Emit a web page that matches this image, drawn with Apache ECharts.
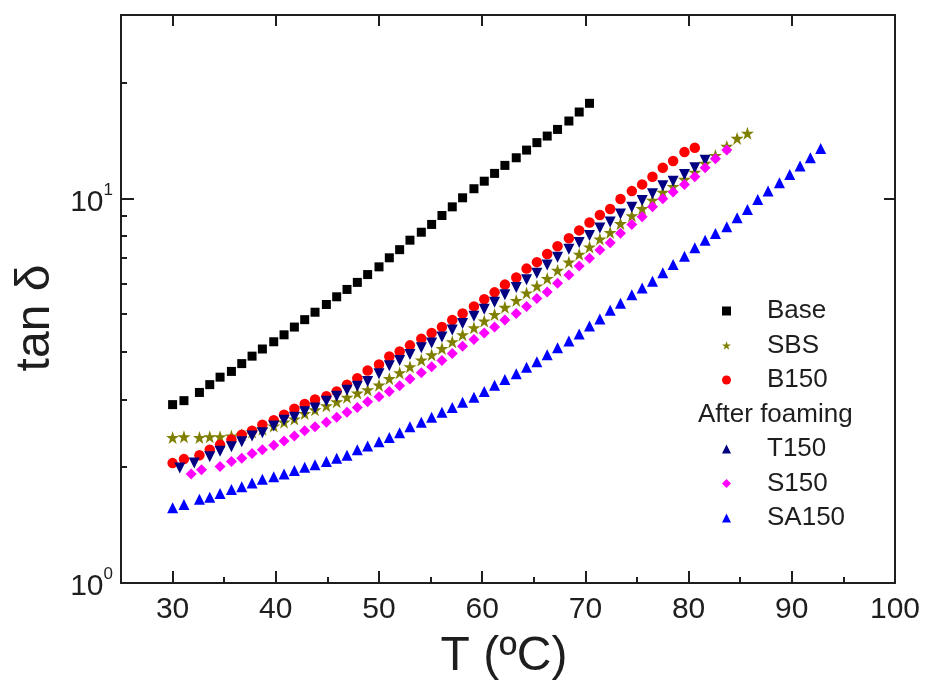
<!DOCTYPE html>
<html>
<head>
<meta charset="utf-8">
<script src="https://cdn.jsdelivr.net/npm/echarts@6/dist/echarts.min.js"></script>
<style>
  html, body { margin: 0; padding: 0; background: #ffffff; }
  #chart { width: 925px; height: 693px; }
</style>
</head>
<body>
<div id="chart"></div>
<script>
// Temperature sweep (°C) shared by most samples
const tempGrid = [30.0, 31.1, 32.6, 33.6, 34.6, 35.7, 36.7, 37.7, 38.7, 39.8,
  40.8, 41.8, 42.8, 43.8, 44.9, 45.9, 46.9, 47.9, 48.9, 50.0,
  51.0, 52.0, 53.0, 54.1, 55.1, 56.1, 57.1, 58.1, 59.2, 60.2,
  61.2, 62.2, 63.3, 64.3, 65.3, 66.3, 67.3, 68.4, 69.4, 70.4,
  71.4, 72.4, 73.4, 74.5, 75.5, 76.5, 77.5, 78.5, 79.6, 80.6,
  81.6, 82.6, 83.7, 84.7, 85.7, 86.7, 87.7, 88.8, 89.8, 90.8,
  91.8, 92.8];
// The foamed T150 and S150 runs start with two readings of their own
const tempT150 = [30.7, 32.1].concat(tempGrid.slice(3, 51));
const tempS150 = [31.8, 32.8].concat(tempGrid.slice(4, 53));

// tan δ values
const base = [2.91, 2.98, 3.13, 3.28, 3.43, 3.55, 3.72, 3.89, 4.06, 4.24,
  4.42, 4.63, 4.84, 5.06, 5.30, 5.55, 5.80, 6.05, 6.34, 6.64,
  7.01, 7.36, 7.79, 8.17, 8.56, 9.03, 9.51, 10.04, 10.60, 11.09,
  11.62, 12.19, 12.76, 13.36, 13.97, 14.53, 15.12, 15.90, 16.78, 17.68];
const sbs = [2.39, 2.40, 2.39, 2.40, 2.40, 2.41, 2.43, 2.47, 2.51, 2.56,
  2.62, 2.67, 2.76, 2.82, 2.89, 2.96, 3.04, 3.12, 3.18, 3.27,
  3.40, 3.52, 3.65, 3.80, 3.92, 4.07, 4.24, 4.42, 4.61, 4.80,
  4.99, 5.21, 5.43, 5.68, 5.92, 6.19, 6.50, 6.83, 7.16, 7.48,
  7.84, 8.16, 8.60, 9.02, 9.41, 9.89, 10.38, 10.74, 11.21, 11.70,
  12.34, 12.94, 13.66, 14.33, 14.77];
const b150 = [2.05, 2.10, 2.15, 2.22, 2.29, 2.36, 2.43, 2.49, 2.58, 2.65,
  2.74, 2.84, 2.92, 3.00, 3.06, 3.15, 3.28, 3.41, 3.57, 3.70,
  3.88, 4.00, 4.15, 4.32, 4.47, 4.63, 4.83, 5.02, 5.24, 5.47,
  5.70, 5.97, 6.23, 6.57, 6.83, 7.17, 7.51, 7.88, 8.26, 8.66,
  9.06, 9.39, 9.97, 10.45, 10.88, 11.39, 12.02, 12.51, 13.20, 13.55];
const t150 = [1.99, 2.05, 2.13, 2.20, 2.26, 2.33, 2.41, 2.46, 2.56, 2.65,
  2.70, 2.79, 2.85, 2.97, 3.06, 3.17, 3.25, 3.34, 3.50, 3.67,
  3.79, 3.93, 4.09, 4.21, 4.36, 4.55, 4.73, 4.94, 5.15, 5.37,
  5.62, 5.87, 6.15, 6.39, 6.71, 7.03, 7.38, 7.68, 8.01, 8.38,
  8.69, 9.11, 9.49, 9.88, 10.28, 10.79, 11.09, 11.55, 12.02, 12.58];
const s150 = [1.92, 1.97, 2.01, 2.07, 2.11, 2.17, 2.22, 2.28, 2.34, 2.41,
  2.49, 2.55, 2.62, 2.70, 2.78, 2.86, 2.96, 3.05, 3.15, 3.26,
  3.39, 3.52, 3.65, 3.79, 3.95, 4.13, 4.30, 4.47, 4.63, 4.83,
  5.02, 5.24, 5.49, 5.71, 6.02, 6.32, 6.67, 6.99, 7.35, 7.67,
  8.12, 8.56, 8.96, 9.52, 9.98, 10.40, 10.88, 11.39, 12.02, 12.69, 13.36];
const sa150 = [1.57, 1.60, 1.65, 1.67, 1.71, 1.75, 1.78, 1.82, 1.86, 1.89,
  1.92, 1.96, 2.00, 2.03, 2.07, 2.11, 2.15, 2.22, 2.27, 2.33,
  2.39, 2.46, 2.55, 2.62, 2.70, 2.78, 2.86, 2.95, 3.04, 3.15,
  3.27, 3.38, 3.50, 3.64, 3.76, 3.92, 4.09, 4.26, 4.44, 4.66,
  4.86, 5.12, 5.34, 5.62, 5.85, 6.09, 6.41, 6.73, 7.08, 7.44,
  7.79, 8.11, 8.44, 8.91, 9.36, 9.94, 10.45, 10.99, 11.55, 12.14,
  12.76, 13.48];

// Axis ticks and labels
const xLabelValues = [30, 40, 50, 60, 70, 80, 90, 100];
const xMajorTicks = [30, 40, 50, 60, 70, 80, 90];
const xMinorTicks = [35, 45, 55, 65, 75, 85, 95];
const yLabelValues = [1, 10];
const yMinorTicks = [2, 3, 4, 5, 6, 7, 8, 9, 20];

const legendTop = ['Base', 'SBS', 'B150'];
const legendBottom = ['T150', 'S150', 'SA150'];

const FONT = '"Liberation Sans", Arial, Helvetica, sans-serif';
const INK = '#1e1e1e';
const STAR = 'path://M50,0 L61.8,35.3 L98.5,35.3 L68.8,57.1 L80.1,92.5 L50,70.6 L19.9,92.5 L31.2,57.1 L1.5,35.3 L38.2,35.3 Z';

const pairs = (ts, vs) => vs.map((v, i) => [ts[i], v]);

function xAxisDef(opts) {
  return Object.assign({
    type: 'value', min: 25, max: 100, gridIndex: 0,
    splitLine: { show: false },
    axisLine: { show: false },
    axisLabel: { show: false },
    axisTick: { show: false }
  }, opts);
}
function yAxisDef(opts) {
  return Object.assign({
    type: 'log', logBase: 10, min: 1, max: 30, gridIndex: 0,
    splitLine: { show: false },
    axisLine: { show: false },
    axisLabel: { show: false },
    axisTick: { show: false }
  }, opts);
}
const lineStyle = { color: INK, width: 2 };

const chart = echarts.init(document.getElementById('chart'), null, { renderer: 'canvas' });

chart.setOption({
  animation: false,
  backgroundColor: '#ffffff',
  grid: { left: 121, right: 30, top: 15, bottom: 110, containLabel: false, outerBoundsMode: 'none' },
  xAxis: [
    xAxisDef({
      position: 'bottom',
      axisLine: { show: true, onZero: false, lineStyle },
      axisTick: { show: true, inside: true, length: 12, customValues: xMajorTicks, lineStyle },
      axisLabel: { show: true, customValues: xLabelValues, fontSize: 30, color: INK, fontFamily: FONT, margin: 12 }
    }),
    xAxisDef({
      position: 'bottom',
      axisTick: { show: true, inside: true, length: 6, customValues: xMinorTicks, lineStyle }
    }),
    xAxisDef({
      position: 'top',
      axisLine: { show: true, onZero: false, lineStyle },
      axisTick: { show: true, inside: true, length: 11, customValues: xMajorTicks, lineStyle }
    })
  ],
  yAxis: [
    yAxisDef({
      position: 'left',
      axisLine: { show: true, onZero: false, lineStyle },
      axisTick: { show: true, inside: true, length: 13, customValues: yLabelValues, lineStyle },
      axisLabel: {
        show: true, customValues: yLabelValues, margin: 8, color: INK, fontFamily: FONT,
        formatter: v => '{b|10}{s|' + Math.round(Math.log10(v)) + '}',
        rich: {
          b: { fontSize: 30, fontFamily: FONT, color: INK, lineHeight: 34, padding: [8, 0, 0, 0] },
          s: { fontSize: 17, fontFamily: FONT, color: INK, verticalAlign: 'top', lineHeight: 17 }
        }
      }
    }),
    yAxisDef({
      position: 'left',
      axisTick: { show: true, inside: true, length: 6, customValues: yMinorTicks, lineStyle }
    }),
    yAxisDef({
      position: 'right',
      axisLine: { show: true, onZero: false, lineStyle },
      axisTick: { show: true, inside: true, length: 11, customValues: [10], lineStyle }
    })
  ],
  legend: [
    {
      data: legendTop, orient: 'vertical', left: 722, top: 296, padding: 0,
      itemWidth: 9, itemHeight: 9, itemGap: 4.5, selectedMode: false,
      textStyle: { fontSize: 26, fontFamily: FONT, color: INK, lineHeight: 30, padding: [0, 0, 0, 31] }
    },
    {
      data: legendBottom, orient: 'vertical', left: 722, top: 434, padding: 0,
      itemWidth: 9, itemHeight: 9, itemGap: 4.5, selectedMode: false,
      textStyle: { fontSize: 26, fontFamily: FONT, color: INK, lineHeight: 30, padding: [0, 0, 0, 31] }
    }
  ],
  graphic: [
    {
      type: 'text', x: 698, y: 415,
      style: { text: 'After foaming', fontSize: 26, fontFamily: FONT, fill: INK, align: 'left', verticalAlign: 'middle' }
    },
    {
      type: 'text', x: 504, y: 657,
      style: { text: 'T (ºC)', fontSize: 48, fontFamily: FONT, fill: INK, align: 'center', verticalAlign: 'middle' }
    },
    {
      type: 'text', x: 36, y: 318, rotation: Math.PI / 2,
      style: { text: 'tan δ', fontSize: 48, fontFamily: FONT, fill: INK, align: 'center', verticalAlign: 'middle' }
    }
  ],
  series: [
    { name: 'Base', type: 'scatter', symbol: 'rect', symbolSize: 9,
      itemStyle: { color: '#000000', opacity: 1 }, data: pairs(tempGrid, base) },
    { name: 'SBS', type: 'scatter', symbol: STAR, symbolSize: 13,
      itemStyle: { color: '#808000', opacity: 1 }, data: pairs(tempGrid, sbs) },
    { name: 'B150', type: 'scatter', symbol: 'circle', symbolSize: 10.5,
      itemStyle: { color: '#ff0000', opacity: 1 }, data: pairs(tempGrid, b150) },
    { name: 'T150', type: 'scatter', symbol: 'triangle', symbolRotate: 180, symbolSize: 11,
      itemStyle: { color: '#000080', opacity: 1 }, data: pairs(tempT150, t150) },
    { name: 'S150', type: 'scatter', symbol: 'diamond', symbolSize: 11,
      itemStyle: { color: '#ff00ff', opacity: 1 }, data: pairs(tempS150, s150) },
    { name: 'SA150', type: 'scatter', symbol: 'triangle', symbolSize: 11,
      itemStyle: { color: '#0000ff', opacity: 1 }, data: pairs(tempGrid, sa150) }
  ]
});
</script>
</body>
</html>
